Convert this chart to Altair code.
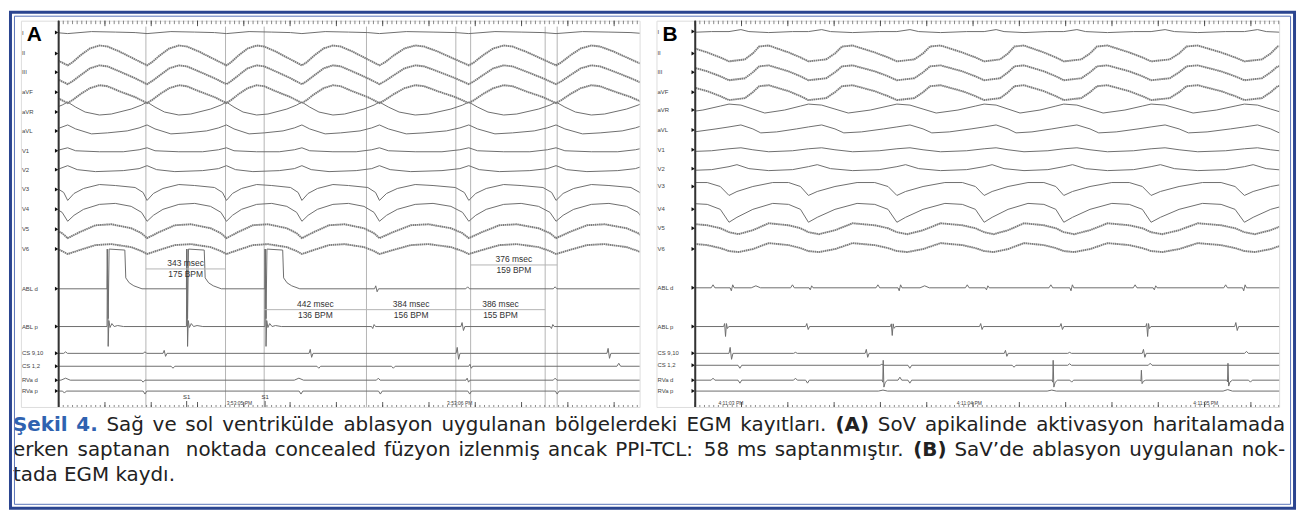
import altair as alt
import pandas as pd

# ---------------- data ----------------
CHANNELS = ["I", "II", "III", "aVF", "aVR", "aVL", "V1", "V2", "V3", "V4", "V5", "V6",
            "ABL d", "ABL p", "CS 9,10", "CS 1,2", "RVa d", "RVa p"]
NOISY = ["II", "III", "aVF", "V5", "V6"]
# display rows (baseline of each channel, counted from top of panel frame)
ROWS_A = [12, 33, 52, 72, 92, 111, 131, 150, 170, 190, 210, 230, 270, 308, 335, 348, 362, 373]
ROWS_B = [11, 33, 52, 72, 90, 110, 130, 149, 167, 190, 209, 230, 269, 308, 335, 347, 362, 373]

# beat (QRS) times in ms
BEATS_A = [-304, 39, 382, 725, 1051, 1386, 1772, 2149, 2530]
BEATS_B = [-230, 146, 489, 871, 1248, 1592, 1969, 2372, 2750]

# surface-lead beat shapes: (fraction of cycle, deflection)
TPL_A = {
    "I":   [(0, -1), (0.3, 1), (0.6, 0.5), (0.85, 0)],
    "II":  [(0, -12), (0.06, -9), (0.16, -2), (0.28, 5), (0.4, 8), (0.5, 7), (0.65, 2), (0.85, -6)],
    "III": [(0, -12), (0.06, -9), (0.16, -3), (0.28, 4), (0.4, 7), (0.5, 6), (0.65, 1), (0.85, -6)],
    "aVF": [(0, -11), (0.06, -8), (0.16, -2), (0.28, 4), (0.4, 7), (0.5, 6), (0.65, 1), (0.85, -5)],
    "aVR": [(0, 10), (0.1, 5), (0.22, 0), (0.4, -3), (0.55, -2), (0.8, 3), (0.93, 7)],
    "aVL": [(0, 6), (0.1, 2), (0.3, -3), (0.5, -2), (0.75, 0), (0.9, 3)],
    "V1":  [(0, 3), (0.1, 0), (0.4, -1), (0.7, -1), (0.9, 1)],
    "V2":  [(0, 4), (0.12, 0), (0.35, -2), (0.7, -1), (0.9, 1)],
    "V3":  [(0, -11), (0.08, -4), (0.2, 1), (0.4, 5), (0.6, 4), (0.85, 2), (0.95, -3)],
    "V4":  [(0, -12), (0.08, -6), (0.2, 0), (0.4, 5), (0.6, 6), (0.8, 3), (0.93, -3)],
    "V5":  [(0, -9), (0.15, -3), (0.35, 4), (0.55, 5), (0.8, 1), (0.93, -4)],
    "V6":  [(0, -5), (0.15, -1), (0.35, 4), (0.55, 5), (0.8, 2), (0.93, -2)],
}
TPL_B = {
    "I":   [(0, 0), (0.15, 2), (0.25, 0), (0.5, -1), (0.8, 0)],
    "II":  [(0, -8), (0.1, -7), (0.2, -6), (0.3, 0), (0.38, 7), (0.5, 8), (0.75, 1), (0.9, -4)],
    "III": [(0, -8), (0.1, -7), (0.2, -6), (0.3, 0), (0.38, 6), (0.5, 7), (0.75, 1), (0.9, -4)],
    "aVF": [(0, -8), (0.1, -7), (0.2, -6), (0.3, 0), (0.38, 6), (0.5, 7), (0.75, 1), (0.9, -4)],
    "aVR": [(0, 6), (0.15, 5), (0.3, 1), (0.45, -3), (0.7, 0), (0.9, 4)],
    "aVL": [(0, 3), (0.15, 5), (0.3, 1), (0.4, -3), (0.6, -2), (0.85, 1)],
    "V1":  [(0, 1), (0.15, 2), (0.3, 0), (0.5, -2), (0.8, -1)],
    "V2":  [(0, 2), (0.1, 4), (0.25, 0), (0.5, -2), (0.8, -1)],
    "V3":  [(0, -9), (0.1, -5), (0.3, 0), (0.55, 4), (0.75, 4), (0.9, 0)],
    "V4":  [(0, -13), (0.1, -8), (0.3, 0), (0.55, 6), (0.75, 5), (0.9, 0)],
    "V5":  [(0, -4), (0.12, -6), (0.3, -2), (0.5, 5), (0.75, 3), (0.9, 0)],
    "V6":  [(0, -2), (0.12, -3), (0.3, 0), (0.5, 6), (0.75, 4), (0.9, 1)],
}

# intracardiac deflection shapes: (ms offset, relative deflection)
SHAPES = {
    "bump": [(-8, 0), (0, 1), (8, 0)],
    "dip": [(-8, 0), (0, -1), (8, 0)],
    "hump": [(-20, 0), (0, 1), (20, 0)],
    "bi": [(-8, 0), (-3, 1), (3, -1), (9, 0)],
    "ib": [(-8, 0), (-3, -1), (3, 1), (9, 0)],
    "tri": [(-6, 0), (-2, 0.3), (2, -1), (6, 0.3), (10, -0.2), (16, 0)],
    "big": [(-4, 0), (-1, -0.1), (1, 1), (4, -0.35), (10, -0.1), (20, 0)],
    "pace_d": [(-1, 0), (0, 40), (4, -30), (8, 40), (76, 39), (80, 11), (95, 6), (115, 3), (150, 0)],
    "pace_p": [(-1, 0), (1, 78), (4, -20), (7, 6), (12, -1), (20, 3), (30, 0), (45, 1), (70, 0)],
}
EV_A = {
    "ABL d": [(210, "pace_d", 1), (553, "pace_d", 1), (892, "pace_d", 1), (1373, "bi", 3), (1767, "bump", 2), (2145, "bump", 2)],
    "ABL p": [(210, "pace_p", 1), (553, "pace_p", 1), (892, "pace_p", 1), (1360, "ib", 2), (1746, "bi", 4), (2132, "ib", 2)],
    "CS 9,10": [(30, "bump", 1.5), (373, "bump", 1.5), (459, "bi", 3), (1090, "bi", 4), (1725, "bi", 6), (2377, "bi", 5)],
    "CS 1,2": [(494, "dip", 2), (1124, "dip", 2), (1446, "dip", 2), (1780, "bi", 2), (2420, "bump", 3)],
    "RVa d": [(30, "hump", 2), (365, "dip", 2), (1038, "hump", 2), (1381, "bump", 2), (1768, "bi", 2), (2145, "bump", 2)],
    "RVa p": [(25, "dip", 2), (373, "dip", 3), (1047, "dip", 3), (1390, "dip", 3), (1776, "dip", 3), (2154, "dip", 3)],
}
EV_B = {
    "ABL d": [(77, "bump", 3), (159, "ib", 3), (262, "hump", 2), (420, "bump", 3), (500, "ib", 2), (789, "bump", 3),
              (884, "ib", 3), (991, "hump", 2), (1175, "bump", 3), (1261, "ib", 2), (1536, "bump", 3), (1626, "ib", 3),
              (1900, "bump", 3), (1986, "ib", 2), (2291, "bump", 3), (2372, "ib", 3)],
    "ABL p": [(129, "tri", 10), (485, "bi", 3), (849, "tri", 9), (1236, "bi", 3), (1583, "bi", 3), (1952, "tri", 10), (2338, "bi", 4)],
    "CS 9,10": [(154, "bi", 6), (433, "bump", 1), (742, "bi", 4), (1343, "bi", 3), (1617, "bump", 1), (1939, "bi", 4), (2381, "bump", 2)],
    "CS 1,2": [(193, "dip", 3), (806, "bump", 1), (927, "dip", 3), (1377, "dip", 2), (1617, "bump", 1.5), (1965, "bump", 2)],
    "RVa d": [(77, "bump", 2), (193, "dip", 3), (433, "bump", 2), (485, "dip", 3), (811, "big", 20), (884, "bump", 3),
              (927, "dip", 3), (1545, "big", 20), (1626, "dip", 2), (1926, "big", 10), (2300, "big", 17), (2398, "dip", 2)],
    "RVa p": [(811, "hump", 1), (1540, "hump", 1), (2300, "hump", 1.5)],
}

# cursor lines and interval measurements (panel A)
CURSORS_A = [377, 721, 888, 1330, 1716, 1780, 2102, 2154]
MEAS_A = [  # start, end, msec, bpm, row of the measurement line
    (377, 720, "343 msec", "175 BPM", 250),
    (888, 1330, "442 msec", "136 BPM", 291),
    (1330, 1716, "384 msec", "156 BPM", 291),
    (1716, 2102, "386 msec", "155 BPM", 291),
    (1780, 2154, "376 msec", "159 BPM", 246),
]
STIM_A = [553, 892]
CLOCK_A = [(781, "3:53:05 PM"), (1733, "3:53:06 PM")]
CLOCK_B = [(154, "4:11:03 PM"), (1184, "4:11:04 PM"), (2205, "4:11:05 PM")]

T_A, T_B = 2510, 2522
H = 389

BLUE, INK = "#2f62b0", "#222222"
CAPTION_LINES = [  # (segments, justified)
    ([("Şekil 4.", "bold", BLUE),
      ("Sağ ve sol ventrikülde ablasyon uygulanan bölgelerdeki EGM kayıtları.", "normal", INK),
      ("(A)", "bold", INK),
      ("SoV apikalinde aktivasyon haritalamada", "normal", INK)], True),
    ([("erken saptanan  noktada concealed füzyon izlenmiş ancak PPI-TCL: 58 ms saptanmıştır.", "normal", INK),
      ("(B)", "bold", INK),
      ("SaV’de ablasyon uygulanan nok-", "normal", INK)], True),
    ([("tada EGM kaydı.", "normal", INK)], False),
]
CAP_FS = 20
CAP_FONT = "DejaVu Sans"

# DejaVu Sans advance widths, per 1000 em
W_REG = {" ": 318, "a": 613, "b": 635, "c": 550, "d": 635, "e": 615, "f": 352, "g": 635, "h": 634, "i": 278,
         "k": 579, "l": 278, "m": 974, "n": 634, "o": 612, "p": 635, "r": 411, "s": 521, "t": 392, "u": 634,
         "v": 592, "y": 592, "z": 525, "ı": 278, "ğ": 635, "ü": 634, "ö": 612, "ş": 521, "Ş": 635, "S": 635,
         "V": 684, "E": 632, "G": 775, "M": 863, "A": 684, "B": 686, "P": 603, "I": 295, "T": 611, "C": 698,
         "L": 557, "(": 390, ")": 390, ".": 318, ":": 337, "-": 361, "’": 318, "4": 636, "5": 636, "8": 636}
W_BOLD = {"Ş": 720, "e": 678, "k": 665, "i": 343, "l": 343, " ": 348, "4": 696, ".": 380, "(": 457, ")": 457,
          "A": 774, "B": 762}

GRAY = "#6e6e6e"


def text_width(s, bold):
    tab = W_BOLD if bold else W_REG
    return sum(tab.get(c, W_REG.get(c, 600)) for c in s) * CAP_FS / 1000.0


def caption_words(left, right, y0, dy):
    recs = []
    for li, (segs, just) in enumerate(CAPTION_LINES):
        toks = []
        for txt, wt, col in segs:
            for w in txt.split(" "):
                toks.append((w, wt, col))
        widths = [text_width(w, wt == "bold") for w, wt, _ in toks]
        gaps = len(toks) - 1
        gap = (right - left - sum(widths)) / gaps if (just and gaps) else text_width(" ", False)
        x = left
        for (w, wt, col), wd in zip(toks, widths):
            if w:
                recs.append(dict(x=x, y=y0 + li * dy, text=w, weight=wt, color=col))
            x += wd + gap
    return pd.DataFrame(recs)


def build_traces(rows, beats, tpl, events, T):
    recs = []
    row_of = dict(zip(CHANNELS, rows))
    for lead, pts in tpl.items():
        for k in range(len(beats) - 1):
            b0, b1 = beats[k], beats[k + 1]
            for ph, a in pts:
                recs.append(dict(ch=lead, t=b0 + ph * (b1 - b0), y=row_of[lead] - a))
        recs.append(dict(ch=lead, t=beats[-1], y=row_of[lead] - pts[0][1]))
    for ch in CHANNELS[12:]:
        recs.append(dict(ch=ch, t=-50, y=row_of[ch]))
        recs.append(dict(ch=ch, t=T + 50, y=row_of[ch]))
        for t0, shp, amp in events.get(ch, []):
            for dt, v in SHAPES[shp]:
                recs.append(dict(ch=ch, t=t0 + dt, y=row_of[ch] - amp * v))
    df = pd.DataFrame(recs)
    df["noisy"] = df["ch"].isin(NOISY)
    return df


def trace_panel(rows, beats, tpl, events, T, cursors, meas, stims, clocks):
    df = build_traces(rows, beats, tpl, events, T)
    xs = alt.Scale(domain=[0, T], nice=False, zero=False)
    ys = alt.Scale(domain=[0, H], reverse=True, nice=False, zero=False)

    def X(f):
        return alt.X(f, scale=xs, axis=None)

    def Y(f):
        return alt.Y(f, scale=ys, axis=None)

    layers = []
    if cursors:
        cur = pd.DataFrame({"t": cursors})
        layers.append(alt.Chart(cur).mark_rule(color="#b4b4b4", strokeWidth=1).encode(
            x=X("t:Q"), y=alt.value(6), y2=alt.value(H)))
    base = alt.Chart(df)
    layers.append(base.transform_filter("!datum.noisy").mark_line(
        color=GRAY, strokeWidth=1, clip=True).encode(
        x=X("t:Q"), y=Y("y:Q"), detail="ch:N", order="t:Q"))
    layers.append(base.transform_filter("datum.noisy").mark_line(
        color="#7c7c7c", strokeWidth=1.9, strokeDash=[1.6, 0.5], clip=True).encode(
        x=X("t:Q"), y=Y("y:Q"), detail="ch:N", order="t:Q"))

    if meas:
        mdf = pd.DataFrame(meas, columns=["t0", "t1", "ms", "bpm", "row"])
        mdf["mid"] = (mdf.t0 + mdf.t1) / 2
        layers.append(alt.Chart(mdf).mark_rule(color="#b4b4b4").encode(
            x=X("t0:Q"), x2="t1:Q", y=Y("row:Q")))
        layers.append(alt.Chart(mdf).mark_text(fontSize=8.5, color="#333", baseline="bottom", dy=-1).encode(
            x=X("mid:Q"), y=Y("row:Q"), text="ms:N"))
        layers.append(alt.Chart(mdf).mark_text(fontSize=8.5, color="#333", baseline="top", dy=1).encode(
            x=X("mid:Q"), y=Y("row:Q"), text="bpm:N"))
    if stims:
        sdf = pd.DataFrame({"t": stims, "s": "S1"})
        layers.append(alt.Chart(sdf).mark_text(fontSize=6, color="#333", baseline="bottom").encode(
            x=X("t:Q"), y=alt.value(382), text="s:N"))
        layers.append(alt.Chart(sdf).mark_rule(color="#555").encode(
            x=X("t:Q"), y=alt.value(383), y2=alt.value(389)))
    # rulers (minor every 20 ms, major every 200 ms)
    minor = pd.DataFrame({"t": list(range(0, T + 1, 20))})
    major = pd.DataFrame({"t": list(range(0, T + 1, 200))})
    layers.append(alt.Chart(minor).mark_rule(color="#555", strokeWidth=0.7).encode(
        x=X("t:Q"), y=alt.value(0), y2=alt.value(3.5)))
    layers.append(alt.Chart(major).mark_rule(color="#333", strokeWidth=0.8).encode(
        x=X("t:Q"), y=alt.value(0), y2=alt.value(5.5)))
    layers.append(alt.Chart(minor).mark_rule(color="#555", strokeWidth=0.7).encode(
        x=X("t:Q"), y=alt.value(H), y2=alt.value(H - 2)))
    layers.append(alt.Chart(major).mark_rule(color="#333", strokeWidth=0.8).encode(
        x=X("t:Q"), y=alt.value(H), y2=alt.value(H - 5)))
    cdf = pd.DataFrame(clocks, columns=["t", "s"])
    layers.append(alt.Chart(cdf).mark_text(fontSize=5, color="#444", baseline="bottom").encode(
        x=X("t:Q"), y=alt.value(H - 1), text="s:N"))
    # divider at trace start
    layers.append(alt.Chart(pd.DataFrame({"t": [0]})).mark_rule(color="#333", strokeWidth=2).encode(
        x=X("t:Q"), y=alt.value(0), y2=alt.value(H)))
    return alt.layer(*layers).properties(width=round(T / 4.29), height=H)


def label_panel(rows, letter, w, extra=()):
    ldf = pd.DataFrame({"ch": CHANNELS, "y": rows})
    ys = alt.Scale(domain=[0, H], reverse=True, nice=False, zero=False)
    txt = alt.Chart(ldf).mark_text(fontSize=6, color="#444", align="left", baseline="middle").encode(
        x=alt.value(1), y=alt.Y("y:Q", scale=ys, axis=None), text="ch:N")
    tri = alt.Chart(ldf).mark_point(shape="triangle-right", filled=True, size=16, color="#111", opacity=1).encode(
        x=alt.value(w - 2), y=alt.Y("y:Q", scale=ys, axis=None))
    let = alt.Chart(pd.DataFrame({"s": [letter]})).mark_text(
        fontSize=21, fontWeight="bold", color="#000", align="left", baseline="middle").encode(
        x=alt.value(6), y=alt.value(14), text="s:N")
    return alt.layer(txt, tri, let, *extra).properties(width=w, height=H)


# ---- caption and outer frame (drawn from the first panel, outside its plot box) ----
cap = caption_words(-8, 1273, 407, 25.5)
cap_layers = []
for wt in ["normal", "bold"]:
    cap_layers.append(alt.Chart(cap[cap.weight == wt]).mark_text(
        fontSize=CAP_FS, fontWeight=wt, font=CAP_FONT, align="left", baseline="middle").encode(
        x=alt.X("x:Q", scale=None), y=alt.Y("y:Q", scale=None), text="text:N",
        color=alt.Color("color:N", scale=None)))
border = pd.DataFrame({"k": [0]})
cap_layers.append(alt.Chart(border).mark_rect(fillOpacity=0, stroke="#2b4590", strokeWidth=3).encode(
    x=alt.value(-10.5), x2=alt.value(1282.5), y=alt.value(-8.5), y2=alt.value(491)))
cap_layers.append(alt.Chart(border).mark_rect(fillOpacity=0, stroke="#5a74b8", strokeWidth=1).encode(
    x=alt.value(-6.5), x2=alt.value(1278.5), y=alt.value(-4.5), y2=alt.value(487)))

trA = trace_panel(ROWS_A, BEATS_A, TPL_A, EV_A, T_A, CURSORS_A, MEAS_A, STIM_A, CLOCK_A)
trB = trace_panel(ROWS_B, BEATS_B, TPL_B, EV_B, T_B, [], [], [], CLOCK_B)
labA = label_panel(ROWS_A, "A", 38, cap_layers)
labB = label_panel(ROWS_B, "B", 39)
spacer = alt.Chart(pd.DataFrame({"k": [0]})).mark_point(opacity=0).encode(
    x=alt.value(0), y=alt.value(0)).properties(width=17, height=H,
                                               view=alt.ViewBackground(stroke="transparent"))

chart = alt.hconcat(labA, trA, spacer, labB, trB, spacing=0, bounds="flush").properties(
    padding={"left": 0, "top": 0, "right": 2, "bottom": 0},
).configure_view(stroke="#3a3a3a", strokeWidth=1).configure(font="Liberation Sans")

chart.save("out.html", embed_options={"renderer": "svg", "actions": False})
